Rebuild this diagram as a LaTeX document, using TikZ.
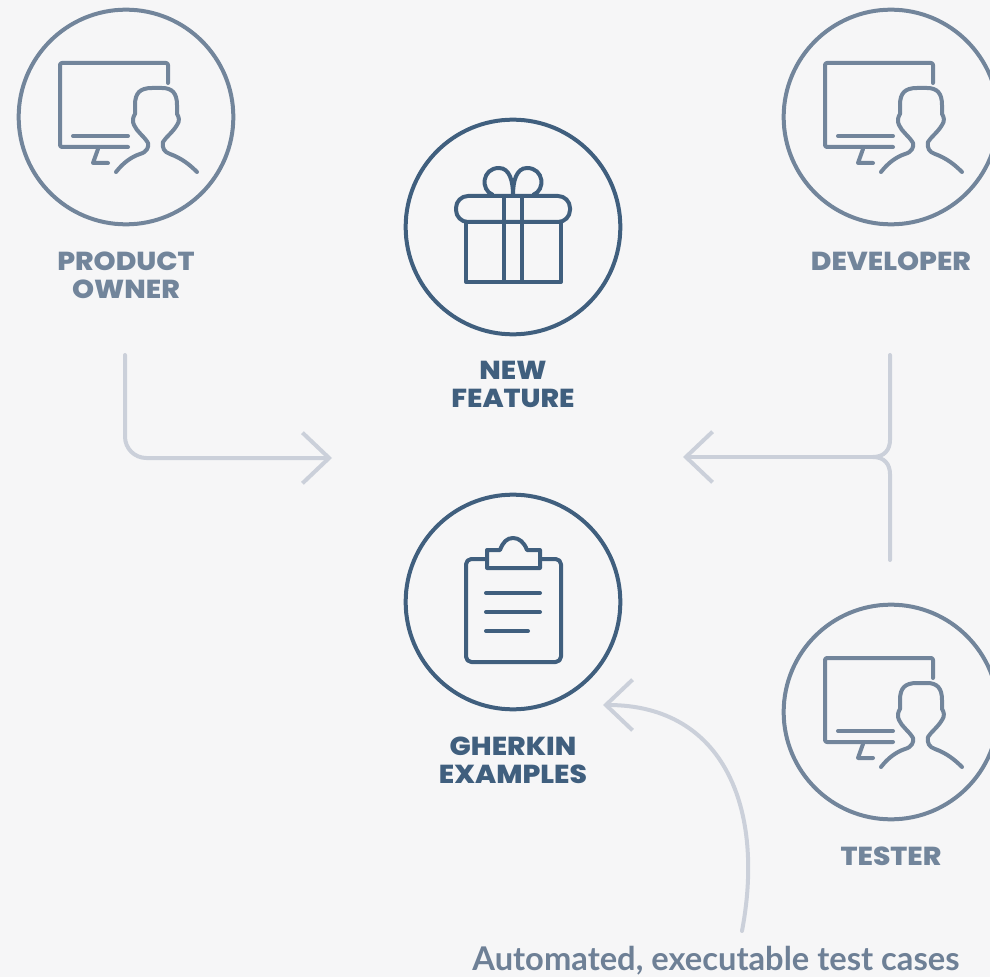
\documentclass[tikz,border=0pt]{standalone}
\usepackage{fontspec}
\setmainfont{Poppins ExtraBold}[FakeStretch=1.08]
\newfontfamily\captionfont{Lato}
\usetikzlibrary{positioning,arrows.meta}
\definecolor{slate}{HTML}{72859B}
\definecolor{navy}{HTML}{405F7E}
\definecolor{pale}{HTML}{CBD0DA}
\definecolor{paper}{HTML}{F6F6F7}
\definecolor{caption}{HTML}{6E8096}
\tikzset{
    rolecircle/.style={circle, draw, line width=3pt, minimum size=161pt, inner sep=0pt},
    rolelabel/.style={align=center, inner sep=0pt, outer sep=0pt, font=\fontsize{19.5}{21}\selectfont},
    flow/.style={pale, line width=3pt, line cap=round, line join=round, -{Straight Barb[length=20pt, width=38pt, line width=3pt]}},
    feed/.style={pale, line width=3pt, line cap=round},
    screenuser/.pic={
        \draw[line width=3pt, line cap=round, line join=round, rounded corners=1.5pt]
            (42,-34) -- (42,-54) -- (-66,-54) -- (-66,30) -- (2,30);
        \draw[line width=3pt, line cap=round] (-53,19) -- (2,19);
        \draw[line width=3pt, line cap=round, line join=round] (-28,32) -- (-33,46) -- (-18,46);
        \draw[line width=3pt, line cap=round, line join=round]
            (-10,55) .. controls (-3,46) and (5,40) .. (14,37) .. controls (21,35) and (23,30) .. (22,26)
            .. controls (18,19) and (11,15) .. (8,8) .. controls (6,4) and (7,0) .. (9,-3)
            -- (9,-12) .. controls (9,-24) and (14,-29) .. (26,-29) -- (36,-29)
            .. controls (46,-29) and (51,-24) .. (51,-12) -- (51,-3)
            .. controls (53,0) and (54,4) .. (51,8)
            .. controls (47,15) and (40,20) .. (37,25) .. controls (36,31) and (38,35) .. (44,37)
            .. controls (55,41) and (63,47) .. (71,55);
    },
    giftbox/.pic={
        \draw[line width=3pt, line join=round, rounded corners=9pt] (-57,-31) rectangle (57,-5);
        \draw[line width=3pt, line join=round] (-47,-5) -- (-47,55) -- (48,55) -- (48,-5);
        \draw[line width=3pt] (-9,-31) -- (-9,55) (9,-31) -- (9,55);
        \draw[line width=3pt] (-20,-32) .. controls (-33,-37) and (-31,-59) .. (-14,-59)
            .. controls (-3,-59) and (0,-45) .. (0,-32)
            .. controls (0,-45) and (3,-59) .. (14,-59)
            .. controls (31,-59) and (33,-37) .. (20,-32);
    },
    clipboard/.pic={
        \draw[line width=3pt, line join=round, rounded corners=4pt]
            (-26,-43) -- (-47,-43) -- (-47,60) -- (48,60) -- (48,-43) -- (27,-43);
        \draw[line width=3pt, line join=round] (-26,-34) -- (-26,-52) -- (-13,-52)
            .. controls (-10,-60) and (-6,-64) .. (0,-64)
            .. controls (6,-64) and (11,-60) .. (14,-52) -- (27,-52) -- (27,-34) -- cycle;
        \draw[line width=3pt, line cap=round] (-27,-9) -- (27,-9) (-27,10) -- (27,10) (-27,29) -- (15,29);
    }
}
\begin{document}
\begin{tikzpicture}[x=0.75pt, y=-0.75pt]
    \useasboundingbox[fill=paper] (0,0) rectangle (990,977);
    % Roles
    \node[rolecircle, slate] (owner) at (126,117) {};
    \node[rolecircle, slate] (developer) at (891,117) {};
    \node[rolecircle, slate] (tester) at (891,712) {};
    \pic[slate] at (owner) {screenuser};
    \pic[slate] at (developer) {screenuser};
    \pic[slate] at (tester) {screenuser};
    \node[rolelabel, slate, below=19pt of owner] (ownerlabel) {PRODUCT\\OWNER};
    \node[rolelabel, slate, below=19pt of developer] (developerlabel) {DEVELOPER};
    \node[rolelabel, slate, below=19pt of tester] (testerlabel) {TESTER};
    % Artefacts
    \node[rolecircle, navy] (feature) at (513,227) {};
    \node[rolecircle, navy] (examples) at (513,602) {};
    \pic[navy] at (feature) {giftbox};
    \pic[navy] at (examples) {clipboard};
    \node[rolelabel, navy, below=19pt of feature] (featurelabel) {NEW\\FEATURE};
    \node[rolelabel, navy, below=19pt of examples] (exampleslabel) {GHERKIN\\EXAMPLES};
    \node[font=\captionfont\fontsize{24.5}{28}\selectfont\bfseries, caption, inner sep=0pt] (autolabel) at (716,961) {Automated, executable test cases};
    % Connectors
    \coordinate (ownerfoot) at (125,355);
    \coordinate (ownerhead) at (332,458);
    \coordinate (devfoot) at (890,355);
    \coordinate (testerfoot) at (890,560);
    \coordinate (forkjoin) at (873,457);
    \coordinate (forkhead) at (683,457);
    \coordinate (autofoot) at (742,931);
    \coordinate (autohead) at (603,705);
    \draw[flow, rounded corners=16pt] (ownerfoot) |- (ownerhead);
    \draw[feed] (devfoot) -- (890,440) .. controls (890,450) and (884,457) .. (forkjoin);
    \draw[feed] (testerfoot) -- (890,474) .. controls (890,464) and (884,457) .. (forkjoin);
    \draw[flow] (forkjoin) -- (forkhead);
    \draw[flow] (autofoot) .. controls (765,810) and (725,705) .. (autohead);
\end{tikzpicture}
\end{document}
